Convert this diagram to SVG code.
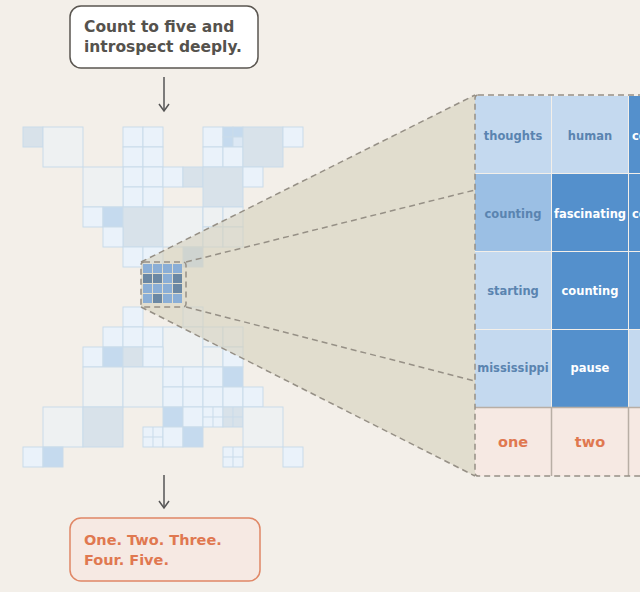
<svg xmlns="http://www.w3.org/2000/svg" width="640" height="592" viewBox="0 0 640 592">
<style>
rect.k{stroke:#c9dbea;stroke-width:1}
.a{fill:#eaf2fa}.b{fill:#eef1f2}.c{fill:#d8e2ea}.d{fill:#c5daee}.e{fill:#e4e7e6}
.sub{stroke:#c9dbea;stroke-width:1}
.m1{fill:#8aaed6}.m2{fill:#6b88a4}
.t{font-family:"DejaVu Sans",sans-serif;font-weight:bold;font-size:11.5px;text-anchor:middle}
.lt{fill:#5a84b0}.wt{fill:#ffffff}.ot{fill:#e07850;font-size:14.5px}
.dash{stroke:#969086;stroke-width:1.5;stroke-dasharray:6,4;fill:none}
</style>
<defs>
<marker id="ah" markerWidth="12" markerHeight="12" refX="10" refY="6" orient="auto" markerUnits="userSpaceOnUse">
<path d="M3,1 L10,6 L3,11" fill="none" stroke="#555" stroke-width="1.5"/>
</marker>
</defs>
<rect width="640" height="592" fill="#f3efe9"/>

<g id="grid">
<rect class="k c" x="23" y="127" width="20" height="20"/>
<rect class="k b" x="43" y="127" width="40" height="40"/>
<rect class="k a" x="123" y="127" width="20" height="20"/><rect class="k a" x="143" y="127" width="20" height="20"/>
<rect class="k a" x="123" y="147" width="20" height="20"/><rect class="k a" x="143" y="147" width="20" height="20"/>
<rect class="k a" x="123" y="167" width="20" height="20"/><rect class="k a" x="143" y="167" width="20" height="20"/>
<rect class="k a" x="123" y="187" width="20" height="20"/><rect class="k a" x="143" y="187" width="20" height="20"/>
<rect class="k a" x="203" y="127" width="20" height="20"/><rect class="k a" x="203" y="147" width="20" height="20"/>
<rect class="k d" x="223" y="127" width="10" height="10"/><rect class="k d" x="233" y="127" width="10" height="10"/>
<rect class="k d" x="223" y="137" width="10" height="10"/><rect class="k" fill="#dce8f4" x="233" y="137" width="10" height="10"/>
<rect class="k a" x="223" y="147" width="20" height="20"/>
<rect class="k c" x="243" y="127" width="40" height="40"/>
<rect class="k a" x="283" y="127" width="20" height="20"/>
<rect class="k b" x="83" y="167" width="40" height="40"/>
<rect class="k a" x="163" y="167" width="20" height="20"/>
<rect class="k c" x="183" y="167" width="20" height="20"/>
<rect class="k c" x="203" y="167" width="40" height="40"/>
<rect class="k a" x="243" y="167" width="20" height="20"/>
<rect class="k a" x="83" y="207" width="20" height="20"/>
<rect class="k d" x="103" y="207" width="20" height="20"/>
<rect class="k c" x="123" y="207" width="40" height="40"/>
<rect class="k b" x="163" y="207" width="40" height="40"/>
<rect class="k b" x="203" y="207" width="20" height="20"/><rect class="k b" x="223" y="207" width="20" height="20"/>
<rect class="k a" x="103" y="227" width="20" height="20"/>
<rect class="k b" x="203" y="227" width="20" height="20"/><rect class="k b" x="223" y="227" width="20" height="20"/>
<rect class="k a" x="123" y="247" width="20" height="20"/><rect class="k a" x="143" y="247" width="20" height="20"/>
<rect class="k d" x="183" y="247" width="20" height="20"/>

<rect class="k a" x="123" y="307" width="20" height="20"/>
<rect class="k b" x="183" y="307" width="20" height="20"/>
<rect class="k a" x="103" y="327" width="20" height="20"/><rect class="k a" x="123" y="327" width="20" height="20"/><rect class="k a" x="143" y="327" width="20" height="20"/>
<rect class="k b" x="163" y="327" width="40" height="40"/>
<rect class="k b" x="203" y="327" width="20" height="20"/><rect class="k b" x="223" y="327" width="20" height="20"/>
<rect class="k a" x="83" y="347" width="20" height="20"/><rect class="k d" x="103" y="347" width="20" height="20"/>
<rect class="k c" x="123" y="347" width="20" height="20"/><rect class="k a" x="143" y="347" width="20" height="20"/>
<rect class="k b" x="203" y="347" width="20" height="20"/><rect class="k a" x="223" y="347" width="20" height="20"/>
<rect class="k b" x="83" y="367" width="40" height="40"/><rect class="k b" x="123" y="367" width="40" height="40"/>
<rect class="k a" x="163" y="367" width="20" height="20"/><rect class="k a" x="183" y="367" width="20" height="20"/>
<rect class="k a" x="203" y="367" width="20" height="20"/><rect class="k d" x="223" y="367" width="20" height="20"/>
<rect class="k a" x="163" y="387" width="20" height="20"/><rect class="k a" x="183" y="387" width="20" height="20"/>
<rect class="k a" x="203" y="387" width="20" height="20"/><rect class="k a" x="223" y="387" width="20" height="20"/>
<rect class="k a" x="243" y="387" width="20" height="20"/>
<rect class="k b" x="43" y="407" width="40" height="40"/><rect class="k c" x="83" y="407" width="40" height="40"/>
<rect class="k d" x="163" y="407" width="20" height="20"/><rect class="k a" x="183" y="407" width="20" height="20"/>
<rect class="k a" x="203" y="407" width="20" height="20"/><path class="sub" d="M213,407V427M203,417H223"/>
<rect class="k c" x="223" y="407" width="20" height="20"/><path class="sub" d="M233,407V427M223,417H243"/>
<rect class="k b" x="243" y="407" width="40" height="40"/>
<rect class="k a" x="143" y="427" width="20" height="20"/><path class="sub" d="M153,427V447M143,437H163"/>
<rect class="k a" x="163" y="427" width="20" height="20"/><rect class="k d" x="183" y="427" width="20" height="20"/>
<rect class="k a" x="23" y="447" width="20" height="20"/><rect class="k d" x="43" y="447" width="20" height="20"/>
<rect class="k a" x="223" y="447" width="20" height="20"/><path class="sub" d="M233,447V467M223,457H243"/>
<rect class="k a" x="283" y="447" width="20" height="20"/>
</g>

<g id="zoom-shade">
<polygon points="141,262 475,95 475,476 141,307" fill="#d6d1bd" opacity="0.6"/>
</g>

<g id="mini">
<rect class="m1" x="143" y="264" width="9" height="9"/><rect class="m1" x="153" y="264" width="9" height="9"/><rect class="m1" x="163" y="264" width="9" height="9"/><rect class="m1" x="173" y="264" width="9" height="9"/>
<rect class="m2" x="143" y="274" width="9" height="9"/><rect class="m2" x="153" y="274" width="9" height="9"/><rect class="m1" x="163" y="274" width="9" height="9"/><rect class="m2" x="173" y="274" width="9" height="9"/>
<rect class="m1" x="143" y="284" width="9" height="9"/><rect class="m1" x="153" y="284" width="9" height="9"/><rect class="m1" x="163" y="284" width="9" height="9"/><rect class="m2" x="173" y="284" width="9" height="9"/>
<rect class="m1" x="143" y="294" width="9" height="9"/><rect class="m2" x="153" y="294" width="9" height="9"/><rect class="m1" x="163" y="294" width="9" height="9"/><rect class="m1" x="173" y="294" width="9" height="9"/>
<rect class="dash" x="141" y="262" width="45" height="45" rx="3"/>
</g>

<g id="panel">
<rect x="475" y="96" width="76" height="77" fill="#c4d9ef"/>
<rect x="552" y="96" width="76" height="77" fill="#c4d9ef"/>
<rect x="629" y="96" width="76" height="77" fill="#5490cc"/>
<rect x="475" y="174" width="76" height="77" fill="#9bbfe4"/>
<rect x="552" y="174" width="76" height="77" fill="#5490cc"/>
<rect x="629" y="174" width="76" height="77" fill="#5490cc"/>
<rect x="475" y="252" width="76" height="77" fill="#c4d9ef"/>
<rect x="552" y="252" width="76" height="77" fill="#5490cc"/>
<rect x="629" y="252" width="76" height="77" fill="#5490cc"/>
<rect x="475" y="330" width="76" height="77" fill="#c4d9ef"/>
<rect x="552" y="330" width="76" height="77" fill="#5490cc"/>
<rect x="629" y="330" width="76" height="77" fill="#c4d9ef"/>
<rect x="475" y="407" width="230" height="69" fill="#f6e9e3"/>
<path d="M475,407.5H705M551.5,407V476M628.5,407V476" stroke="#b8aea5" stroke-width="1.5"/>
<text class="t lt" x="513" y="140">thoughts</text>
<text class="t lt" x="590" y="140">human</text>
<text class="t wt" x="632" y="140" text-anchor="start" style="text-anchor:start">co</text>
<text class="t lt" x="513" y="218">counting</text>
<text class="t wt" x="590" y="218">fascinating</text>
<text class="t wt" x="632" y="218" style="text-anchor:start">co</text>
<text class="t lt" x="513" y="295">starting</text>
<text class="t wt" x="590" y="295">counting</text>
<text class="t lt" x="513" y="372">mississippi</text>
<text class="t wt" x="590" y="372">pause</text>
<text class="t ot" x="513" y="447">one</text>
<text class="t ot" x="590" y="447">two</text>
<rect class="dash" x="475" y="95" width="230" height="381" rx="3"/>
</g>

<g id="connectors">
<path class="dash" d="M141,262L475,95M186,262L475,190M141,307L475,476M186,307L475,381"/>
<line x1="164" y1="77" x2="164" y2="111" stroke="#555" stroke-width="1.5" marker-end="url(#ah)"/>
<line x1="164" y1="475" x2="164" y2="508" stroke="#555" stroke-width="1.5" marker-end="url(#ah)"/>
</g>

<g id="prompt">
<rect x="70" y="6" width="188" height="62" rx="11" fill="#ffffff" stroke="#5a5650" stroke-width="1.5"/>
<text font-family="DejaVu Sans,sans-serif" font-weight="bold" font-size="15.5" fill="#55524d"><tspan x="84" y="32">Count to five and</tspan><tspan x="84" y="52">introspect deeply.</tspan></text>
</g>
<g id="answer">
<rect x="70" y="518" width="190" height="63" rx="11" fill="#f6e9e3" stroke="#e08766" stroke-width="1.5"/>
<text font-family="DejaVu Sans,sans-serif" font-weight="bold" font-size="14.5" fill="#e07850"><tspan x="84" y="545">One. Two. Three.</tspan><tspan x="84" y="565">Four. Five.</tspan></text>
</g>
</svg>
